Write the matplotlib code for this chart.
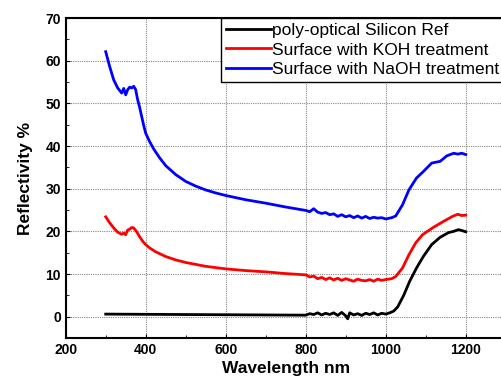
import matplotlib
matplotlib.use('Agg')
import matplotlib.pyplot as plt
from matplotlib.ticker import MultipleLocator

plt.rcParams['font.family'] = ['Liberation Sans', 'DejaVu Sans']

# data (wavelength in nm, reflectivity in %)
wl_ref = [300, 400, 500, 600, 700, 800, 810, 820, 830, 840, 850, 860, 870, 880, 890, 900, 905,
          910, 920, 930, 940, 950, 960, 970, 980, 990, 1000, 1010, 1020, 1030, 1045, 1060, 1077,
          1094, 1115, 1136, 1157, 1170, 1182, 1190, 1200]
refl_ref = [0.6, 0.55, 0.5, 0.45, 0.4, 0.35, 0.7, 0.5, 0.9, 0.4, 0.8, 0.5, 0.9, 0.3, 1.0, 0.2, -0.5,
            0.9, 0.4, 0.7, 0.3, 0.8, 0.5, 0.9, 0.4, 0.8, 0.6, 0.9, 1.3, 2.3, 5.0, 8.3, 11.4,
            14.1, 16.9, 18.6, 19.7, 20.0, 20.4, 20.2, 19.9]

wl_koh = [300, 310, 320, 330, 340, 345, 350, 355, 360, 365, 370, 375, 380, 385, 390, 395, 400,
          410, 425, 450, 475, 500, 550, 600, 650, 700, 750, 800, 810, 820, 830, 840, 850, 860,
          870, 880, 890, 900, 910, 920, 930, 940, 950, 960, 970, 980, 990, 1000, 1015, 1025,
          1042, 1058, 1075, 1092, 1117, 1142, 1167, 1180, 1190, 1200]
refl_koh = [23.4, 22.0, 20.8, 19.8, 19.3, 19.6, 19.2, 20.3, 20.5, 20.9, 20.8, 20.2, 19.5, 18.7, 18.0, 17.4, 16.9,
            16.1, 15.2, 14.1, 13.3, 12.7, 11.8, 11.2, 10.8, 10.5, 10.1, 9.8, 9.3, 9.5, 8.9, 9.2, 8.7, 9.1,
            8.6, 9.0, 8.5, 8.9, 8.6, 8.3, 8.8, 8.5, 8.4, 8.7, 8.3, 8.8, 8.5, 8.7, 8.9, 9.4,
            11.4, 14.5, 17.3, 19.2, 20.8, 22.2, 23.5, 24.0, 23.7, 23.8]

wl_naoh = [300, 310, 320, 330, 340, 345, 350, 355, 360, 365, 370, 375, 380, 385, 390, 395, 400,
           410, 420, 435, 450, 475, 500, 525, 550, 575, 600, 650, 700, 750, 800, 810, 820, 830,
           840, 850, 860, 870, 880, 890, 900, 910, 920, 930, 940, 950, 960, 970, 980, 990, 1000,
           1015, 1025, 1042, 1058, 1077, 1094, 1115, 1136, 1153, 1170, 1180, 1190, 1200]
refl_naoh = [62.1, 58.6, 55.5, 53.6, 52.4, 53.5, 52.0, 53.2, 53.8, 53.6, 54.0, 53.2, 50.8, 49.0, 46.9, 44.8, 43.0,
             41.0, 39.3, 37.2, 35.4, 33.3, 31.7, 30.6, 29.7, 29.0, 28.4, 27.4, 26.6, 25.7, 24.9, 24.6, 25.3, 24.5,
             24.2, 24.4, 23.9, 24.1, 23.5, 23.9, 23.4, 23.7, 23.2, 23.6, 23.1, 23.5, 23.0, 23.3, 23.1, 23.2, 22.9,
             23.2, 23.6, 26.2, 29.7, 32.5, 34.0, 36.0, 36.4, 37.7, 38.3, 38.1, 38.3, 38.0]

labels = ['poly-optical Silicon Ref', 'Surface with KOH treatment', 'Surface with NaOH treatment']
colors = ['black', 'red', 'blue']

fig = plt.figure(figsize=(5.02, 3.78), dpi=100)
ax = fig.add_axes([65.7 / 502, 1 - 338 / 378, (505.7 - 65.7) / 502, (338 - 18) / 378])

for x, y, c, lab in zip([wl_ref, wl_koh, wl_naoh], [refl_ref, refl_koh, refl_naoh], colors, labels):
    ax.plot(x, y, color=c, lw=2, label=lab)

ax.set_xlim(200, 1300)
ax.set_ylim(-5, 70)
ax.xaxis.set_major_locator(MultipleLocator(200))
ax.xaxis.set_minor_locator(MultipleLocator(100))
ax.yaxis.set_major_locator(MultipleLocator(10))
ax.yaxis.set_minor_locator(MultipleLocator(5))
ax.grid(True, which='major', color='#888888', linestyle=(0, (1, 1)), lw=0.8)
ax.tick_params(which='both', direction='in', labelsize=10)
ax.tick_params(which='major', length=3)
ax.tick_params(which='minor', length=2)
for lab in ax.get_xticklabels() + ax.get_yticklabels():
    lab.set_fontweight('bold')
for s in ax.spines.values():
    s.set_linewidth(1.5)

ax.set_xlabel('Wavelength nm', fontsize=12.5, fontweight='bold', labelpad=3)
ax.set_ylabel('Reflectivity %', fontsize=12.5, fontweight='bold', labelpad=9)

leg = ax.legend(loc='upper left', bbox_to_anchor=(220.7 / 502, 1 - 18 / 378),
                bbox_transform=fig.transFigure, borderaxespad=0, fontsize=12.5,
                handlelength=2.6, handletextpad=0.1, labelspacing=0.25, borderpad=0.28,
                fancybox=False, framealpha=1, edgecolor='black')
leg.get_frame().set_linewidth(1.0)

fig.savefig('out.png', dpi=100)
